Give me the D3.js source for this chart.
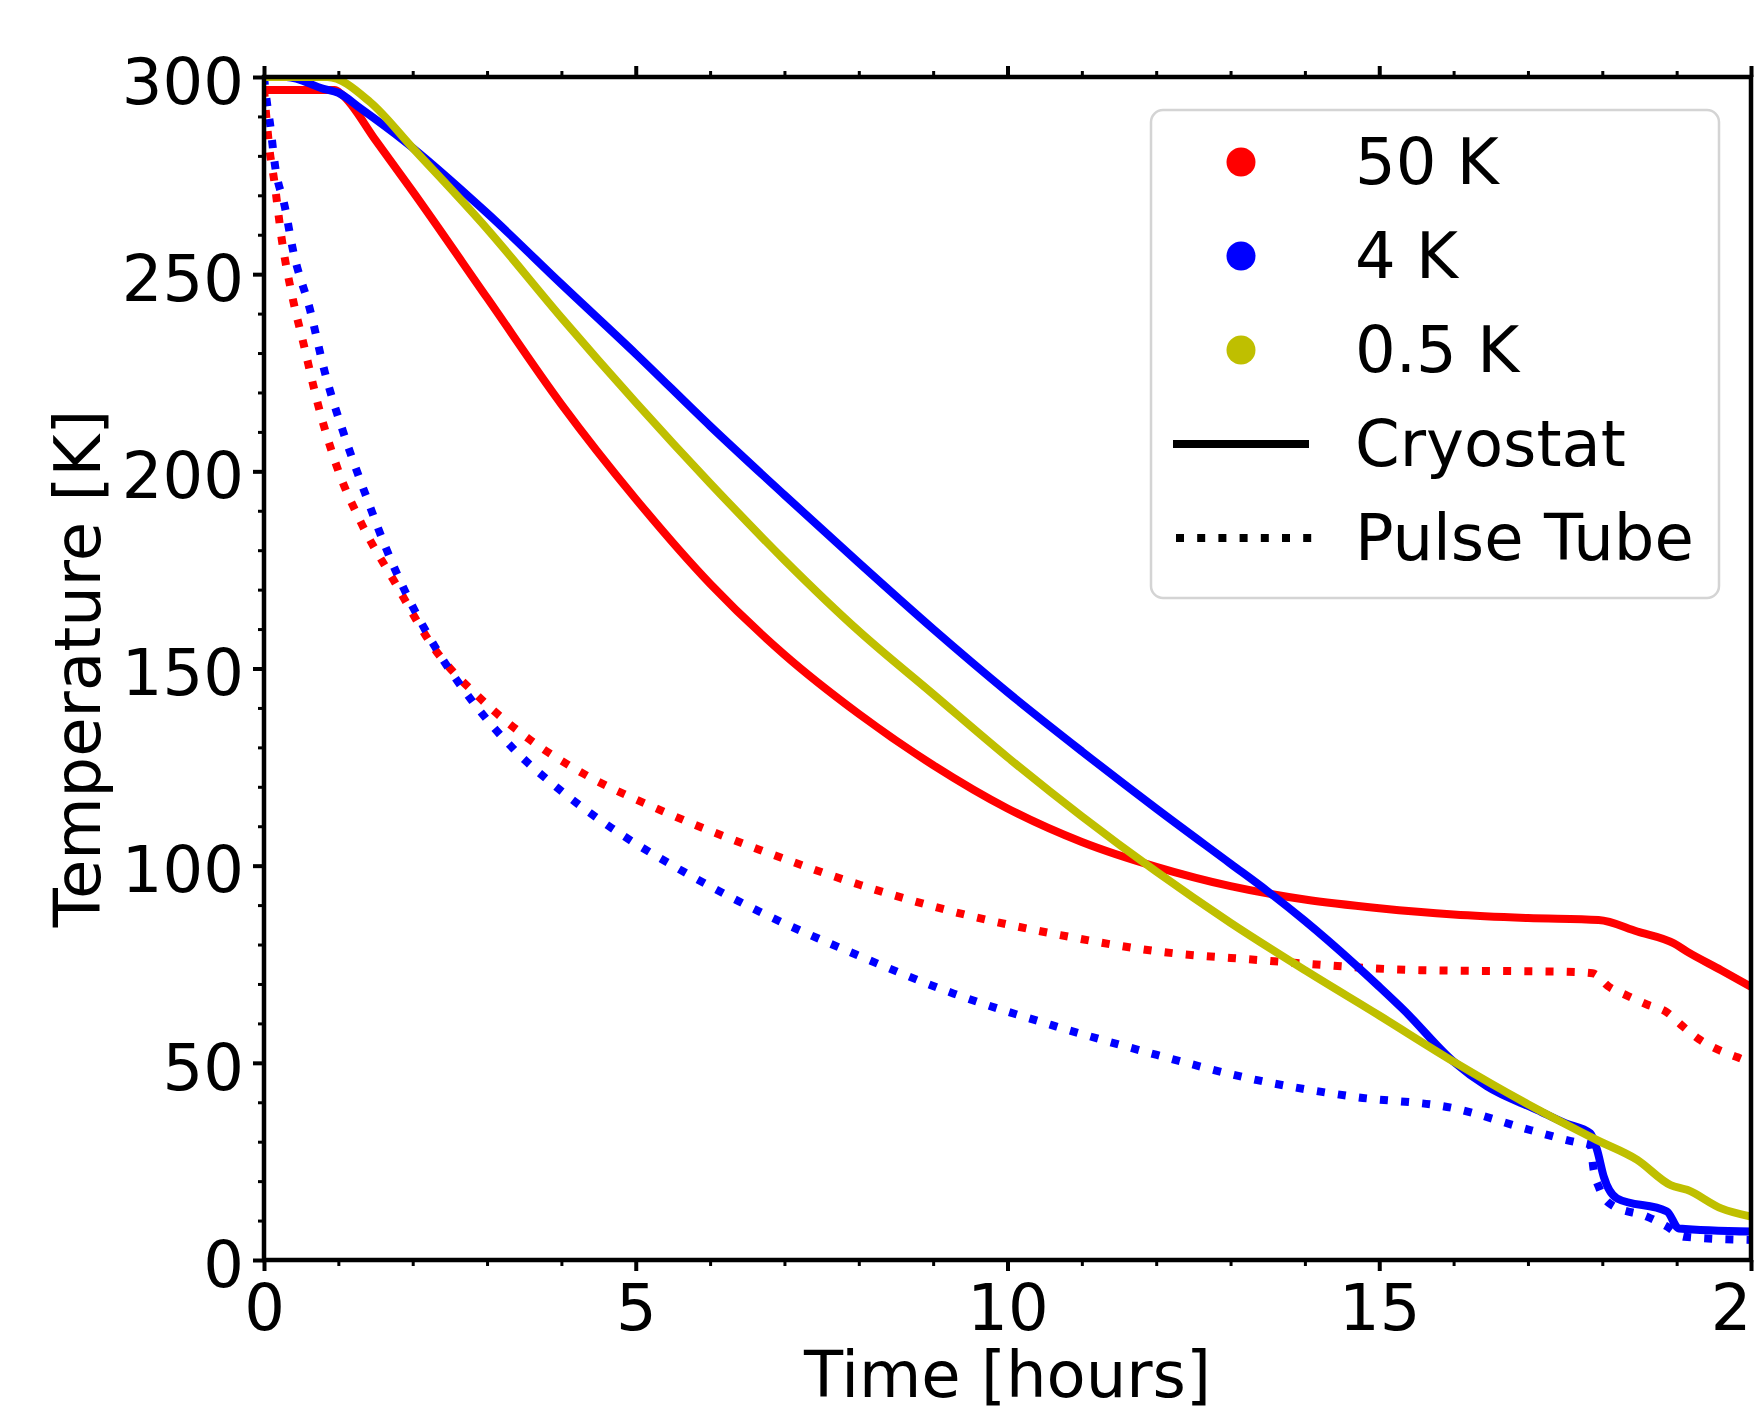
<!DOCTYPE html>
<html>
<head>
<meta charset="utf-8">
<script src="https://cdn.jsdelivr.net/npm/d3@7"></script>
<style>
  body { margin: 0; background: #fff; }
  text { font-family: "DejaVu Sans", sans-serif; fill: #000; }
</style>
</head>
<body>
<div id="container"></div>
<script>
// plot box (px) of the figure
var margin = {top: 77, right: 3, bottom: 152, left: 264},
    fullW = 1754, fullH = 1412,
    width = fullW - margin.left - margin.right,
    height = fullH - margin.top - margin.bottom;

// ---- data ----
// 50 K stage, cryostat sensor
var red_cryo_t = [0, 0.95, 1.05, 1.5, 2, 3, 4, 5, 6, 7, 8, 9, 10, 11, 12, 13, 14, 15, 16, 17, 17.95, 18.47, 18.96, 19.14, 19.6, 20];
var red_cryo_T = [296.7, 296.7, 295.5, 284, 271, 244, 217, 193, 171.5, 153.5, 138.5, 125.5, 114.5, 106, 99.7, 94.8, 91.4, 89.2, 87.6, 86.7, 86.2, 83.3, 80.3, 78.2, 73.5, 69.3];
// 4 K stage, cryostat sensor
var blue_cryo_t = [0, 0.3, 0.8, 1.0, 1.3, 1.87, 3, 4, 5, 6, 7, 8, 9, 10, 11, 12, 13, 13.5, 14, 14.66, 15.0, 15.33, 16.0, 16.45, 17.13, 17.5, 17.84, 17.93, 18.02, 18.2, 18.87, 19.03, 20];
var blue_cryo_T = [300, 300, 297, 296, 292, 284, 265.5, 247.5, 229.8, 211.5, 194, 176.8, 160, 144, 129, 114.5, 100.5, 93.5, 86, 75.2, 69.3, 63.4, 50.3, 44, 38, 34.7, 32.1, 27.9, 21.1, 15.6, 12.3, 8.0, 7.2];
// 0.5 K stage, cryostat sensor
var yel_cryo_t = [0, 0.85, 1.43, 2, 3, 4, 5, 6, 7, 8, 9, 10, 11, 12, 13, 14, 15, 16, 17, 17.93, 18.47, 18.92, 19.14, 19.6, 20];
var yel_cryo_T = [300, 300, 293.6, 282, 261.5, 239, 217.5, 197, 177.5, 159.5, 143.5, 127.5, 112.5, 98.5, 85.5, 73.5, 62, 50.3, 39.5, 30.4, 25.4, 19.0, 17.8, 13.1, 11.0];
// 50 K stage, pulse tube sensor
var red_pt_t = [0, 0.04, 0.08, 0.13, 0.24, 0.39, 0.53, 0.73, 0.98, 1.31, 1.74, 2.32, 2.91, 3.58, 4.29, 5.33, 6.67, 8.02, 9.36, 10.71, 12.05, 13.36, 15.55, 17.5, 17.87, 18.09, 18.34, 18.6, 18.87, 19.08, 19.3, 19.55, 19.82, 20];
var red_pt_T = [297, 288, 280.7, 274.7, 258.7, 243.5, 232.5, 216.7, 201.2, 186.8, 172.5, 154.3, 142.4, 131.9, 123.4, 114.1, 104, 95.1, 87.9, 82.4, 78.2, 76.1, 73.5, 73.1, 72.7, 69.3, 67, 64.8, 62.8, 59.3, 56, 53.4, 51.4, 50];
// 4 K stage, pulse tube sensor
var blue_pt_t = [0, 0.04, 0.08, 0.15, 0.28, 0.39, 0.62, 0.82, 1.07, 1.36, 1.65, 1.9, 2.3, 2.79, 3.35, 3.98, 4.68, 5.64, 6.67, 7.97, 9.27, 10.66, 12.01, 13.36, 14.66, 16.0, 17.04, 17.62, 17.84, 17.88, 17.96, 18.13, 18.6, 18.87, 19.1, 20];
var blue_pt_T = [300, 293.4, 288.3, 277.3, 267.1, 256.1, 240.9, 225, 209.7, 194.4, 180.1, 169.5, 155.5, 142, 129.7, 119.2, 109.5, 98.5, 88.3, 77.4, 67.6, 59.2, 52, 45.6, 41.4, 38.5, 32.9, 30, 29.2, 23.3, 18.2, 13.9, 11, 8.5, 5.9, 5.1];

var stage_names = ["50 K", "4 K", "0.5 K"];
var stage_colors = ["#ff0000", "#0000ff", "#bfbf00"];
var style_names = ["Cryostat", "Pulse Tube"];
var x_major = [0, 5, 10, 15, 20];
var y_major = [0, 50, 100, 150, 200, 250, 300];

function zip(t, T) {
  return t.map(function(d, i) { return {t: d, T: T[i]}; });
}

// draw order: pulse tubes first, cryostat curves on top
var series = [
  {pts: zip(red_pt_t, red_pt_T), color: stage_colors[0], dotted: true},
  {pts: zip(blue_pt_t, blue_pt_T), color: stage_colors[1], dotted: true},
  {pts: zip(red_cryo_t, red_cryo_T), color: stage_colors[0], dotted: false},
  {pts: zip(blue_cryo_t, blue_cryo_T), color: stage_colors[1], dotted: false},
  {pts: zip(yel_cryo_t, yel_cryo_T), color: stage_colors[2], dotted: false}
];

var lw = 8;
var dots = lw + "," + (lw * 1.65);
var fs = 64;

var svg = d3.select("#container")
  .append("svg")
    .attr("width", fullW)
    .attr("height", fullH)
  .append("g")
    .attr("transform", "translate(" + margin.left + "," + margin.top + ")");

var x = d3.scaleLinear().domain([0, 20]).range([0, width]);
var y = d3.scaleLinear().domain([0, 300]).range([height, 0]);

svg.append("defs").append("clipPath")
    .attr("id", "clip")
  .append("rect")
    .attr("width", width)
    .attr("height", height);

var line = d3.line()
    .x(function(d) { return x(d.t); })
    .y(function(d) { return y(d.T); })
    .curve(d3.curveMonotoneX);

var lines = svg.append("g").attr("clip-path", "url(#clip)");
lines.selectAll("path")
    .data(series)
  .enter().append("path")
    .attr("d", function(d) { return line(d.pts); })
    .attr("fill", "none")
    .attr("stroke", function(d) { return d.color; })
    .attr("stroke-width", lw)
    .attr("stroke-linejoin", "round")
    .attr("stroke-dasharray", function(d) { return d.dotted ? dots : null; });

// ---- axes ----
var x_minor = d3.range(0, 21).filter(function(v) { return x_major.indexOf(v) < 0; });
var y_minor = d3.range(0, 301, 10).filter(function(v) { return y_major.indexOf(v) < 0; });

function styleAxis(g, minor) {
  g.select(".domain").remove();
  g.selectAll(".tick line").attr("stroke", "#000").attr("stroke-width", minor ? 3 : 4);
  g.selectAll(".tick text").style("font-size", fs + "px").style("font-family", "DejaVu Sans");
}

var gx = svg.append("g").attr("transform", "translate(0," + height + ")")
    .call(d3.axisBottom(x).tickValues(x_major).tickSize(11).tickPadding(14).tickFormat(d3.format("d")));
styleAxis(gx, false);
var gxm = svg.append("g").attr("transform", "translate(0," + height + ")")
    .call(d3.axisBottom(x).tickValues(x_minor).tickSize(6).tickFormat(""));
styleAxis(gxm, true);
var gt = svg.append("g")
    .call(d3.axisTop(x).tickValues(x_major).tickSize(11).tickFormat(""));
styleAxis(gt, false);
var gtm = svg.append("g")
    .call(d3.axisTop(x).tickValues(x_minor).tickSize(6).tickFormat(""));
styleAxis(gtm, true);

var gy = svg.append("g")
    .call(d3.axisLeft(y).tickValues(y_major).tickSize(11).tickPadding(9).tickFormat(d3.format("d")));
styleAxis(gy, false);
gy.selectAll(".tick text").attr("dy", "0.41em");
var gym = svg.append("g")
    .call(d3.axisLeft(y).tickValues(y_minor).tickSize(6).tickFormat(""));
styleAxis(gym, true);

// spines
svg.append("rect")
    .attr("width", width)
    .attr("height", height)
    .attr("fill", "none")
    .attr("stroke", "#000")
    .attr("stroke-width", 4.5);

// axis titles
svg.append("text")
    .attr("x", width / 2)
    .attr("y", height + 137)
    .style("text-anchor", "middle")
    .style("font-size", fs + "px")
    .text("Time [hours]");

svg.append("text")
    .attr("transform", "translate(" + (100 - margin.left) + "," + (height / 2) + ") rotate(-90)")
    .style("text-anchor", "middle")
    .style("font-size", fs + "px")
    .text("Temperature [K]");

// ---- legend ----
var lg = svg.append("g").attr("transform", "translate(" + (1151 - margin.left) + "," + (110 - margin.top) + ")");
lg.append("rect")
    .attr("width", 568)
    .attr("height", 488)
    .attr("rx", 12)
    .attr("fill", "#fff")
    .attr("fill-opacity", 0.8)
    .attr("stroke", "#d4d4d4")
    .attr("stroke-width", 2.5);

var rowH = 94, row0 = 52, textX = 204;
var entries = stage_names.map(function(n, i) { return {label: n, color: stage_colors[i], kind: "dot"}; })
  .concat(style_names.map(function(n, i) { return {label: n, color: "#000", kind: i === 0 ? "solid" : "dotted"}; }));

var le = lg.selectAll(".legend")
    .data(entries)
  .enter().append("g")
    .attr("class", "legend")
    .attr("transform", function(d, i) { return "translate(0," + (row0 + i * rowH) + ")"; });

le.filter(function(d) { return d.kind === "dot"; })
  .append("circle")
    .attr("cx", 90)
    .attr("r", 14.5)
    .attr("fill", function(d) { return d.color; });

le.filter(function(d) { return d.kind !== "dot"; })
  .append("line")
    .attr("x1", 22)
    .attr("x2", 158)
    .attr("stroke", "#000")
    .attr("stroke-width", lw)
    .attr("stroke-dasharray", function(d) { return d.kind === "dotted" ? dots : null; })
    .attr("transform", function(d) { return d.kind === "dotted" ? "translate(3,0)" : null; });

le.append("text")
    .attr("x", textX)
    .attr("dy", "0.34em")
    .style("font-size", fs + "px")
    .text(function(d) { return d.label; });
</script>
</body>
</html>
